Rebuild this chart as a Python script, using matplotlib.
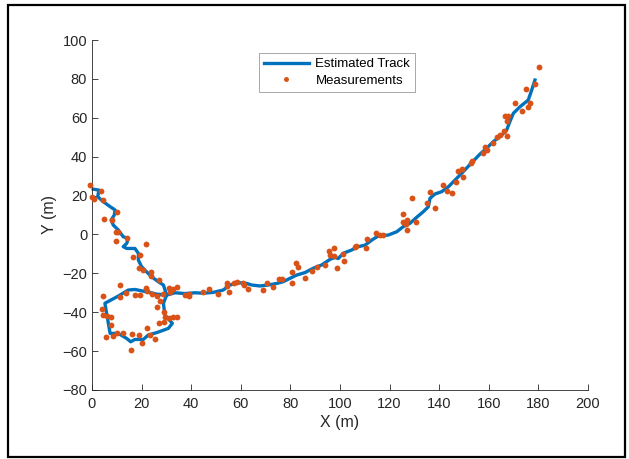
import matplotlib
matplotlib.use("Agg")
import matplotlib.pyplot as plt
from matplotlib.patches import Rectangle

plt.rcParams['font.family'] = ['Liberation Sans', 'DejaVu Sans']

track_x = [0.5, 2.8, 2.3, 4.6, 7.3, 9.3, 9.0, 7.7, 8.6, 10.6, 12.6, 14.6, 14.0, 12.6, 14.0,
           17.3, 18.7, 18.7, 20.0, 22.0, 24.1, 26.7, 28.8, 30.1, 28.8, 29.4, 32.4, 30.8,
           26.1, 22.7, 20.7, 17.3, 15.6, 14.0, 10.6, 7.3, 6.6, 5.9, 5.2, 10.6, 14.6, 17.3,
           22.0, 26.1, 30.1, 33.5, 37.5, 41.5, 45.0, 48.9, 52.9, 55.6, 59.0, 62.4, 64.4,
           67.7, 71.1, 74.5, 77.1, 79.8, 82.5, 85.9, 89.2, 92.6, 96.0, 98.0, 99.3, 101.3,
           104.7, 107.4, 110.1, 112.8, 115.4, 119.5, 122.9, 125.5, 128.2, 130.9, 133.6,
           135.6, 136.3, 138.3, 141.0, 143.7, 146.4, 149.7, 153.1, 156.5, 159.1, 161.8,
           165.2, 167.2, 168.5, 169.9, 172.6, 175.9, 177.3, 178.6]
track_y = [23.3, 22.8, 19.4, 16.8, 14.3, 12.6, 10.0, 7.4, 4.8, 2.3, -1.2, -2.0, -4.6, -6.3, -7.2,
           -7.2, -9.7, -13.2, -16.6, -19.2, -21.8, -24.3, -26.0, -31.2, -35.4, -41.5, -45.7,
           -48.3, -50.5, -51.7, -54.0, -54.0, -55.2, -53.5, -50.9, -50.9, -45.7, -40.6, -35.4,
           -31.7, -28.6, -28.3, -29.5, -30.7, -31.2, -30.0, -30.4, -30.0, -30.2, -29.8, -28.6,
           -26.0, -24.8, -25.2, -26.0, -26.5, -26.0, -25.2, -24.3, -22.6, -20.9, -19.6, -17.4,
           -15.7, -12.8, -11.8, -12.4, -9.7, -8.0, -6.3, -5.5, -2.9, -0.8, -0.3, 1.4, 4.0, 5.7,
           8.8, 11.7, 14.2, 18.6, 20.8, 22.0, 24.5, 28.0, 32.3, 36.9, 41.4, 44.3, 47.7, 51.1,
           53.7, 58.0, 62.3, 65.7, 69.1, 74.3, 79.4]

meas_x = [-0.8, 3.6, 0.1, 0.9, 4.6, 10.2, 5.0, 8.2, 9.5, 10.6, 9.6, 14.2, 21.9, 16.4, 19.3,
          19.0, 20.6, 23.6, 23.9, 27.0, 31.0, 34.4, 32.8, 31.5, 28.8, 11.3, 11.3, 13.7,
          17.3, 19.4, 21.8, 22.0, 24.1, 26.1, 26.4, 27.4, 29.0, 29.4, 31.2, 32.5, 34.1,
          27.1, 29.0, 4.6, 3.9, 4.3, 5.9, 7.5, 7.5, 5.6, 8.3, 10.2, 12.3, 16.0, 19.1, 20.0,
          15.6, 22.0, 23.4, 25.4,
          37.5, 39.2, 39.2, 44.6, 47.3, 50.9, 54.6, 54.6, 55.4, 57.3, 58.3, 61.0, 61.3,
          63.0, 69.1, 70.4, 72.8, 75.4, 76.5, 80.5, 80.8, 82.3, 83.2, 85.9, 88.6, 90.6,
          94.0, 95.7, 97.6, 96.0, 97.6, 98.7, 101.3, 101.6, 106.5, 110.5, 106.0,
          110.8, 114.5, 116.1, 117.2, 125.5, 126.6, 126.9, 127.2, 125.5, 130.6, 129.2,
          135.0, 136.3, 138.3, 141.4, 143.3, 145.0, 146.8, 147.7, 149.1, 149.5, 152.7,
          153.1, 157.5, 159.1, 158.5, 161.5, 163.2, 164.5, 167.2, 166.1, 166.5, 167.6,
          167.2, 170.6, 173.3, 175.0, 175.9, 176.6, 178.6, 180.4]
meas_y = [25.4, 22.3, 19.4, 18.2, 17.5, 11.4, 8.1, 7.2, 1.2, 1.4, -3.3, -2.0, -5.0, -11.4, -10.6,
          -17.2, -18.3, -19.4, -21.3, -23.5, -27.4, -27.2, -28.2, -29.5, -30.7, -26.0, -32.4, -30.0,
          -31.2, -31.2, -27.7, -29.0, -30.7, -31.7, -37.5, -34.3, -39.8, -42.3, -43.2, -42.6, -42.6,
          -45.7, -44.9, -31.7, -38.5, -41.5, -42.0, -42.3, -46.8, -52.6, -52.1, -50.9, -50.9,
          -51.2, -51.7, -55.7, -59.5, -48.3, -51.7, -53.8,
          -31.2, -30.4, -31.7, -29.5, -28.2, -30.4, -24.8, -26.5, -29.8, -24.8, -24.5, -24.8,
          -26.0, -28.1, -28.6, -25.2, -27.2, -23.1, -23.1, -24.8, -19.2, -14.6, -17.0, -22.6,
          -18.7, -16.6, -15.7, -8.4, -7.2, -10.6, -11.1, -17.4, -10.1, -13.5, -6.0, -7.2, -6.3,
          -2.3, 0.6, -0.3, -0.3, 6.5, 5.3, 2.3, 7.4, 10.3, 6.2, 18.8,
          16.0, 21.7, 13.7, 25.4, 22.5, 21.1, 27.1, 32.8, 33.5, 29.5, 36.9,
          37.9, 42.0, 43.4, 45.1, 46.9, 50.3, 51.1, 50.6, 53.3, 60.9, 60.9,
          58.5, 67.4, 63.6, 74.6, 65.7, 67.8, 77.4, 86.3]

x_ticks = list(range(0, 201, 20))
y_ticks = list(range(-80, 101, 20))

blue = '#0072BD'
orange = '#D95319'

fig = plt.figure(figsize=(6.29, 4.59), dpi=100)
ax = fig.add_axes([92/629, 1-390/459, 496/629, 350/459])

ax.plot(track_x, track_y, color=blue, lw=2.4, label='Estimated Track', zorder=2, clip_on=False)
ax.plot(meas_x, meas_y, 'o', color=orange, ms=4.2, mec='none', label='Measurements', zorder=3,
        clip_on=False)

ax.set_xlim(0, 200)
ax.set_ylim(-80, 100)
ax.set_xticks(x_ticks)
ax.set_yticks(y_ticks)
ax.tick_params(direction='in', length=4, width=0.6, labelsize=10.5, colors='#262626')
ax.tick_params(axis='x', pad=5)
for s in ['top', 'right']:
    ax.spines[s].set_visible(False)
for s in ['left', 'bottom']:
    ax.spines[s].set_linewidth(0.6)
    ax.spines[s].set_color('#262626')
ax.set_xlabel('X (m)', fontsize=11.5, color='#262626', labelpad=3)
ax.set_ylabel('Y (m)', fontsize=11.5, color='#262626', labelpad=4)

leg = ax.legend(loc='upper left', bbox_to_anchor=(0.336, 0.963), borderaxespad=0,
                fontsize=9.5, frameon=True, fancybox=False, edgecolor='#808080',
                handlelength=3.4, handletextpad=0.5, borderpad=0.4, labelspacing=0.3,
                numpoints=1, markerscale=0.85)
leg.get_frame().set_linewidth(0.6)

fig.patches.append(Rectangle((8/629, 1-457/459), 617/629, 452/459, transform=fig.transFigure,
                             fill=False, edgecolor='black', lw=1.6))

fig.savefig('out.png', dpi=100)
